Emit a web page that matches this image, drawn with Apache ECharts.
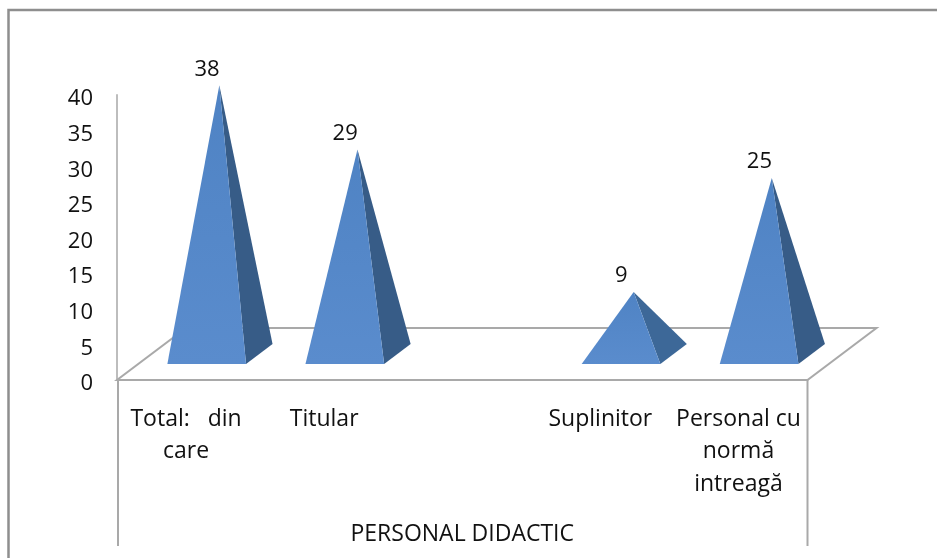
<!DOCTYPE html>
<html><head><meta charset="utf-8">
<style>html,body{margin:0;padding:0;background:#fff}#c{width:937px;height:558px}</style>
<script src="https://cdn.jsdelivr.net/npm/echarts@6/dist/echarts.min.js"></script>
</head><body><div id="c"></div>
<script>
const categories = ['Total:   din\ncare', 'Titular', '', 'Suplinitor', 'Personal cu\nnormă\nintreagă'];
const values = [38, 29, null, 9, 25];
const yTicks = [0, 40, 5];
const groupLabel = 'PERSONAL DIDACTIC';

const FONT = '"Open Sans", sans-serif';
const GRAY = '#a9a9a9';
const chart = echarts.init(document.getElementById('c'), null, {renderer: 'canvas'});

function renderFloor(params, api) {
  const c = api.coord([0, 0]);
  const band = api.size([1, 0])[0];
  const x0 = c[0] - band / 2, y0 = c[1];
  const x1 = x0 + band * categories.length;
  const dx = 69, dy = 52;
  const ls = {stroke: GRAY, lineWidth: 2, fill: null};
  return {type: 'group', children: [
    {type: 'polygon', shape: {points: [[x0, y0], [x1, y0], [x1 + dx, y0 - dy], [x0 + dx, y0 - dy]]},
     style: {fill: '#fff', stroke: GRAY, lineWidth: 2}},
    {type: 'line', shape: {x1: x0 + 1, y1: y0, x2: x0 + 1, y2: y0 + 166}, style: ls},
    {type: 'line', shape: {x1: x1, y1: y0, x2: x1, y2: y0 + 166}, style: ls}
  ]};
}

function renderPyramid(params, api) {
  const v = api.value(1);
  if (v == null || isNaN(v)) return;
  const c = api.coord([api.value(0), 0]);
  const top = api.coord([api.value(0), v]);
  const base = {l: c[0] - 18.7, r: c[0] + 60, y: c[1] - 16};
  const backR = [c[0] + 86.5, c[1] - 36];
  const apex = [c[0] + 33.3, top[1] - 24];
  return {type: 'group', children: [
    {type: 'polygon', shape: {points: [apex, [base.r, base.y], backR]},
     style: {fill: v < 15 ? '#3d6898' : '#375c87'}},
    {type: 'polygon', shape: {points: [apex, [base.l, base.y], [base.r, base.y]]},
     style: {fill: {type: 'linear', x: 0, y: 0, x2: 0, y2: 1,
       colorStops: [{offset: 0, color: '#4f83c4'}, {offset: 1, color: '#5a8ccd'}]}}},
    {type: 'text', x: c[0] + 21, y: apex[1] - 16,
     style: {text: String(v), font: '22px ' + FONT, fill: '#111', align: 'center', verticalAlign: 'middle'}}
  ]};
}

chart.setOption({
  animation: false,
  backgroundColor: '#fff',
  graphic: [
    {type: 'polyline', silent: true, z: 0, shape: {points: [[8.5, 558], [8.5, 10], [937, 10]]},
     style: {stroke: '#8e8e8e', lineWidth: 2.5, fill: null}}
  ],
  grid: {left: 117, right: 129.5, top: 95, height: 285, containLabel: false},
  xAxis: {
    type: 'category', data: categories, boundaryGap: true,
    axisLine: {show: false}, axisTick: {show: false}, splitLine: {show: false},
    axisLabel: {interval: 0, color: '#111', fontFamily: FONT, fontSize: 23, lineHeight: 32.5, margin: 23, align: 'center', verticalAlign: 'top'},
    name: groupLabel, nameLocation: 'middle', nameGap: 143,
    nameTextStyle: {color: '#111', fontFamily: FONT, fontSize: 23}
  },
  yAxis: {
    type: 'value', min: yTicks[0], max: yTicks[1], interval: yTicks[2],
    axisLine: {show: true, lineStyle: {color: '#bdbdbd', width: 2}},
    axisTick: {show: false}, splitLine: {show: false},
    axisLabel: {color: '#111', fontFamily: FONT, fontSize: 22, margin: 24, align: 'right', verticalAlign: 'top', lineHeight: 8}
  },
  series: [
    {type: 'custom', z: 1, clip: false, silent: true, renderItem: renderFloor,
     data: [[0, 0]], encode: {x: 0, y: 1}},
    {type: 'custom', z: 2, clip: false, silent: true, renderItem: renderPyramid,
     data: values.map((v, i) => [i, v]), encode: {x: 0, y: 1}}
  ]
});
</script></body></html>
